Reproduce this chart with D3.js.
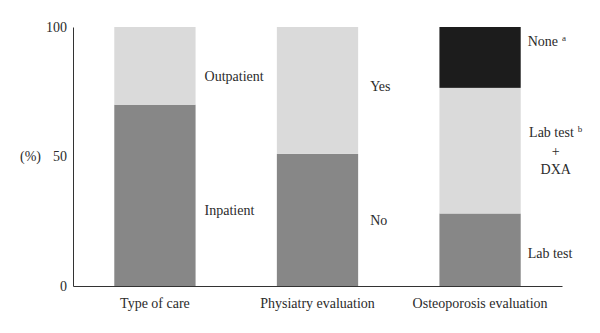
<!DOCTYPE html>
<html><head><meta charset="utf-8">
<script src="https://cdn.jsdelivr.net/npm/d3@7"></script>
<style>body{margin:0;background:#fff}text{font-family:"Liberation Serif","DejaVu Serif",serif;fill:#2b2b2b}</style>
</head><body><svg id="c" width="600" height="333"></svg>
<script>
const categories = ["Type of care", "Physiatry evaluation", "Osteoporosis evaluation"];
// stacked segments bottom to top (percent)
const typeOfCare = [{label:"Inpatient", value:70, tone:"mid"}, {label:"Outpatient", value:30, tone:"light"}];
const physiatry = [{label:"No", value:51, tone:"mid"}, {label:"Yes", value:49, tone:"light"}];
const osteoporosis = [{label:"Lab test", value:28, tone:"mid"}, {label:"Lab test|+|DXA", sup:"b", value:48.5, tone:"light"}, {label:"None", sup:"a", value:23.5, tone:"dark"}];
const yTicks = [0, 50, 100];

const series = [typeOfCare, physiatry, osteoporosis];
const colors = {mid:"#878787", light:"#dadada", dark:"#1c1c1c"};
const labelDy = {"Outpatient":10, "Inpatient":15, "Yes":-4, "No":0, "None":-16, "Lab test|+|DXA":0, "Lab test":3};
const labelDx = [9, 12, 7];
const FS = 14;

const svg = d3.select("#c");
const x = d3.scaleBand().domain(categories).range([73, 562]).paddingInner(0.5).paddingOuter(0.254);
const y = d3.scaleLinear().domain([0, 100]).range([286, 27]);

series.forEach((segs, i) => {
  const cat = categories[i];
  let acc = 0;
  segs.forEach(s => {
    const y0 = acc, y1 = acc + s.value; acc = y1;
    svg.append("rect").attr("x", x(cat)).attr("width", x.bandwidth())
      .attr("y", y(y1)).attr("height", y(y0) - y(y1)).attr("fill", colors[s.tone]);
    const mid = (y(y0) + y(y1)) / 2 + (labelDy[s.label] || 0);
    const lines = s.label.split("|");
    const lx = x(cat) + x.bandwidth() + labelDx[i];
    if (lines.length === 1) {
      const t = svg.append("text").attr("x", lx).attr("y", mid).attr("dy", "0.35em")
        .attr("font-size", FS).text(s.label);
      if (s.sup) t.append("tspan").attr("font-size", 9).attr("dx", 4).attr("dy", -5).text(s.sup);
    } else {
      const cx = lx + 28;
      lines.forEach((ln, k) => {
        const t = svg.append("text").attr("x", cx).attr("y", mid + (k - 1) * 18.5).attr("dy", "0.35em")
          .attr("text-anchor", "middle").attr("font-size", FS).text(ln);
        if (k === 0 && s.sup) t.append("tspan").attr("font-size", 9).attr("dx", 4).attr("dy", -5).text(s.sup);
      });
    }
  });
});

// axes
const yAxis = svg.append("g").attr("transform", "translate(73,0)")
  .call(d3.axisLeft(y).tickValues(yTicks).tickSize(0).tickPadding(6));
yAxis.select(".domain").attr("stroke", "#333").attr("stroke-width", 1);
yAxis.selectAll("text").attr("font-size", FS).attr("font-family", '"Liberation Serif",serif').attr("fill", "#2b2b2b");

const xAxis = svg.append("g").attr("transform", "translate(0,286)")
  .call(d3.axisBottom(x).tickSize(0).tickPadding(12).tickSizeOuter(0));
xAxis.select(".domain").attr("stroke", "#333").attr("stroke-width", 1);
xAxis.selectAll("text").attr("font-size", FS).attr("font-family", '"Liberation Serif",serif').attr("fill", "#2b2b2b");

svg.append("text").attr("x", 30.5).attr("y", y(50)).attr("dy", "0.35em").attr("text-anchor", "middle")
  .attr("font-size", FS).text("(%)");
</script></body></html>
